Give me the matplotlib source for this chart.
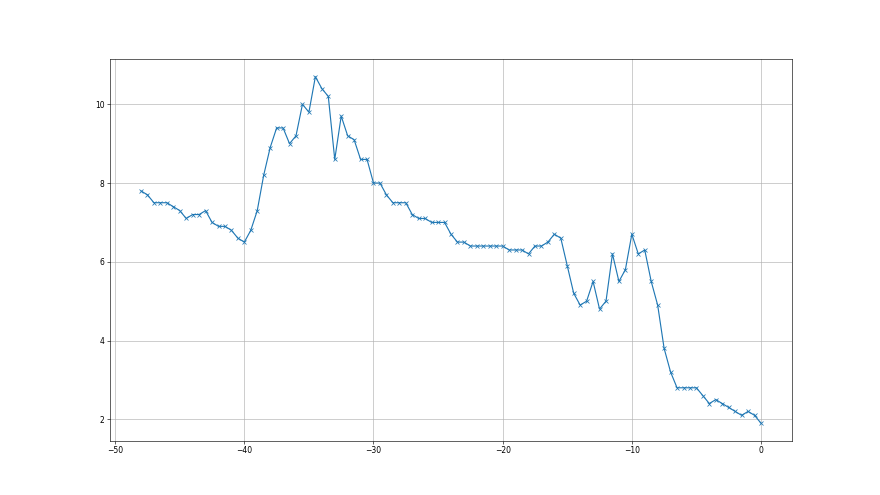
import numpy as np
import matplotlib
matplotlib.use("Agg")
import matplotlib.pyplot as plt

# giorni relativi (passo di mezza unità) e valori
giorni = np.arange(-48, 0.01, 0.5)
valori = [
    7.8, 7.7, 7.5, 7.5, 7.5, 7.4, 7.3, 7.1, 7.2, 7.2,
    7.3, 7.0, 6.9, 6.9, 6.8, 6.6, 6.5, 6.8, 7.3, 8.2,
    8.9, 9.4, 9.4, 9.0, 9.2, 10.0, 9.8, 10.7, 10.4, 10.2,
    8.6, 9.7, 9.2, 9.1, 8.6, 8.6, 8.0, 8.0, 7.7, 7.5,
    7.5, 7.5, 7.2, 7.1, 7.1, 7.0, 7.0, 7.0, 6.7, 6.5,
    6.5, 6.4, 6.4, 6.4, 6.4, 6.4, 6.4, 6.3, 6.3, 6.3,
    6.2, 6.4, 6.4, 6.5, 6.7, 6.6, 5.9, 5.2, 4.9, 5.0,
    5.5, 4.8, 5.0, 6.2, 5.5, 5.8, 6.7, 6.2, 6.3, 5.5,
    4.9, 3.8, 3.2, 2.8, 2.8, 2.8, 2.8, 2.6, 2.4, 2.5,
    2.4, 2.3, 2.2, 2.1, 2.2, 2.1, 1.9,
]

fig = plt.figure(figsize=(16, 9), dpi=55)
ax = fig.add_subplot(111)
ax.plot(giorni, valori, marker='x')
ax.grid(True)

fig.savefig("out.png", dpi=55)
